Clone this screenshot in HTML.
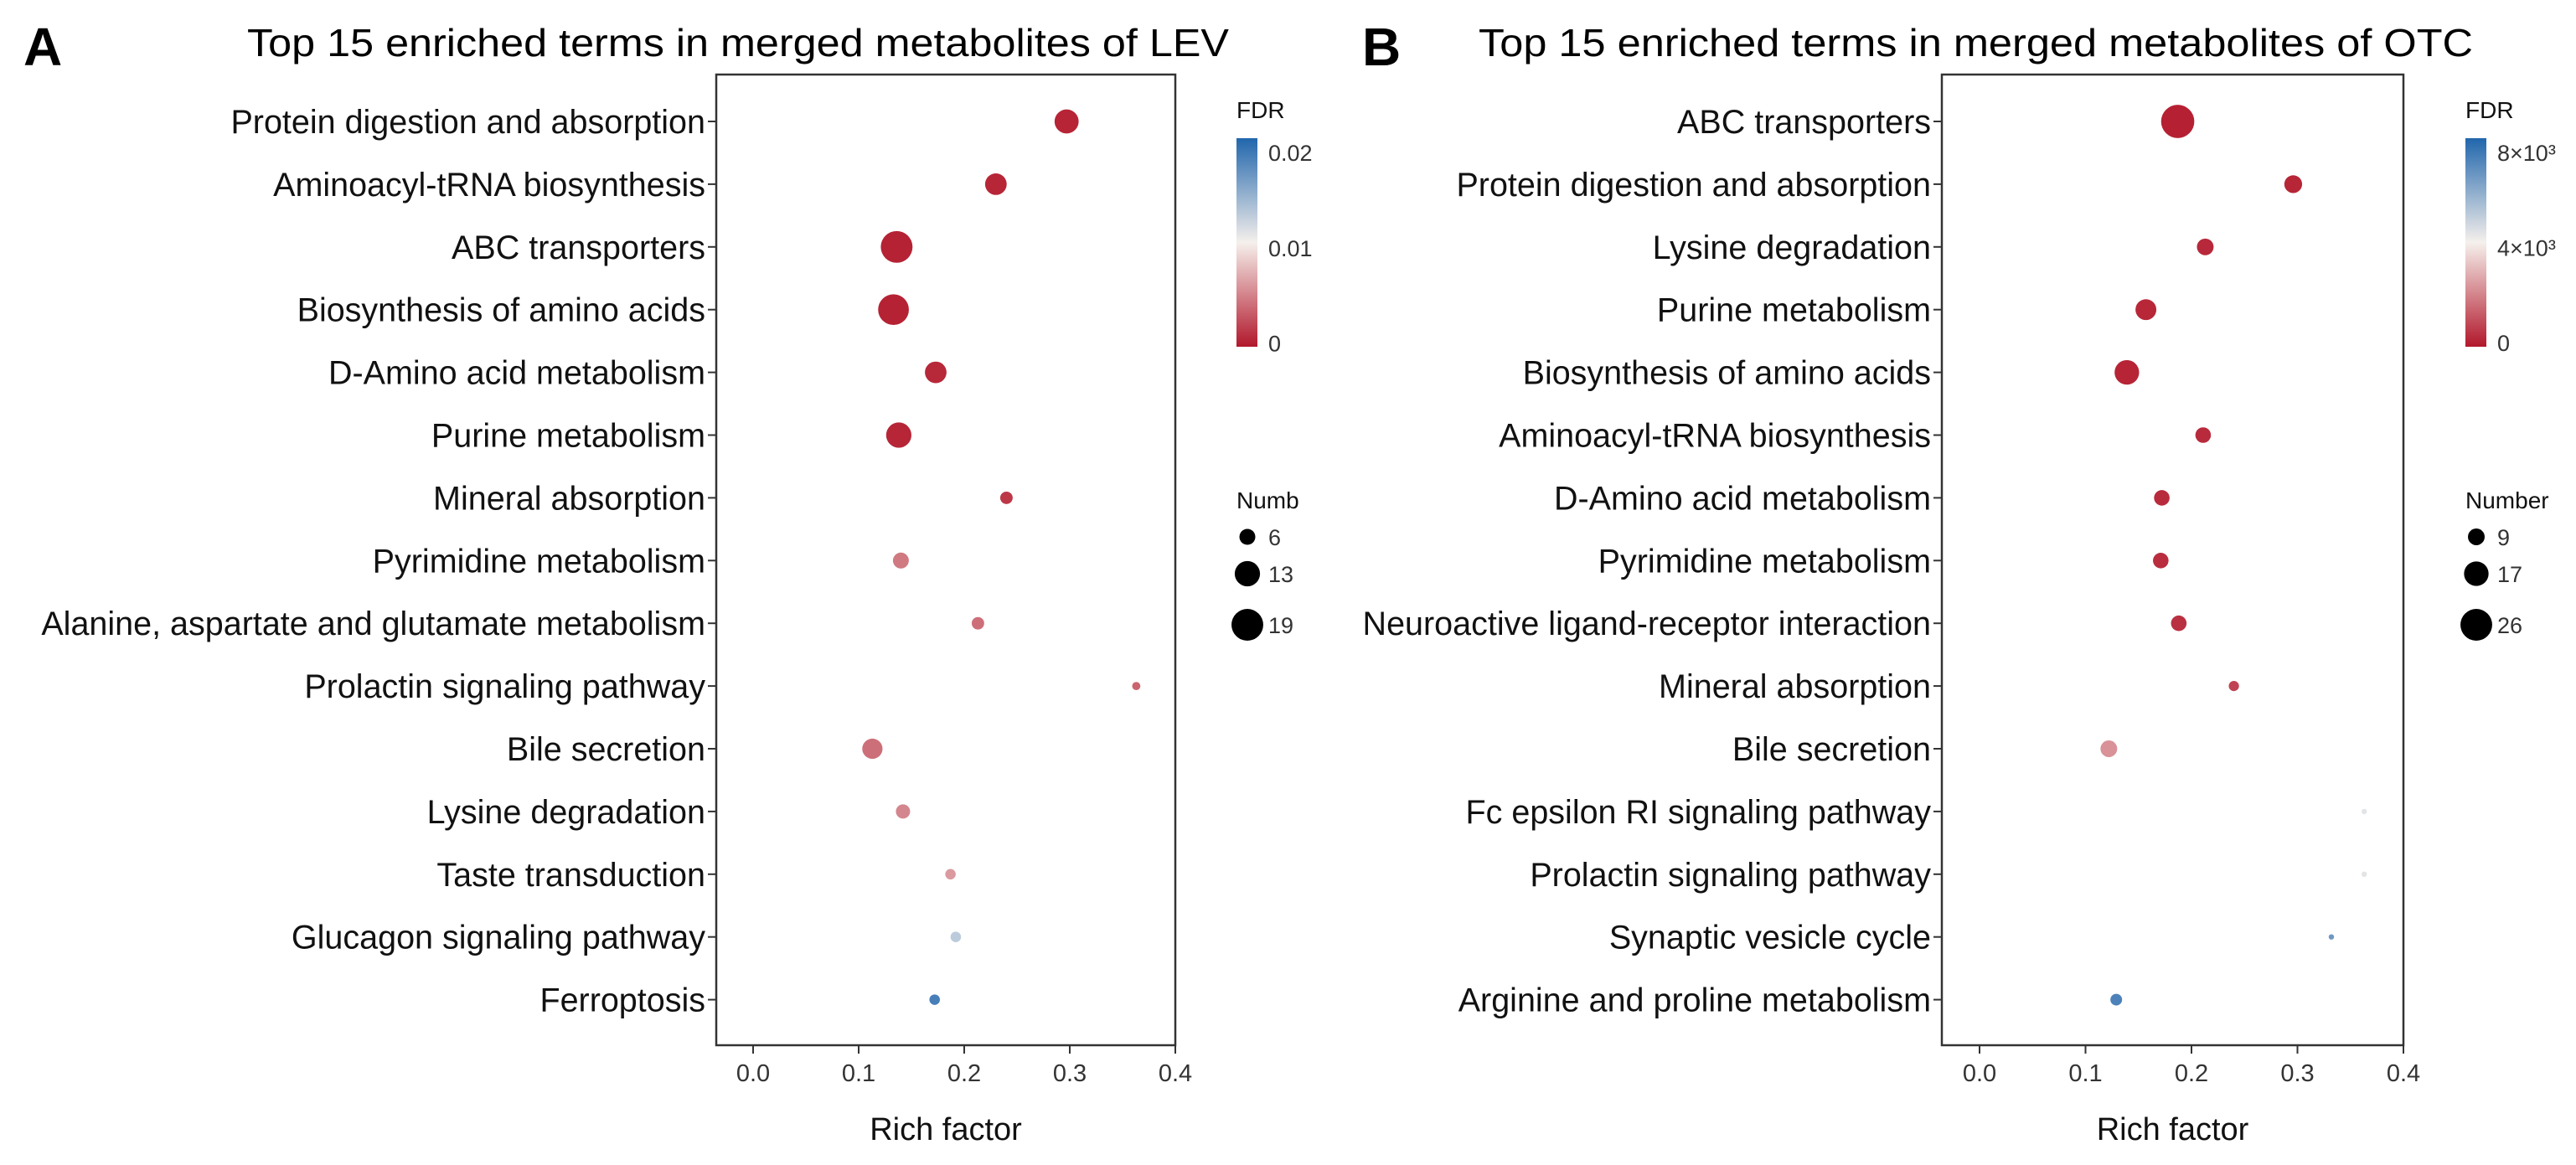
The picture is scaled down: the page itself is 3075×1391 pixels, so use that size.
<!DOCTYPE html>
<html><head><meta charset="utf-8">
<style>
html,body{margin:0;padding:0;background:#fff;}
svg{display:block;font-family:"Liberation Sans",Arial,sans-serif;}
</style></head>
<body>
<svg id="fig" width="3075" height="1391" viewBox="0 0 3075 1391" xmlns="http://www.w3.org/2000/svg"></svg>
<script>
// Panel A data (LEV)
const termsA = ["Protein digestion and absorption","Aminoacyl-tRNA biosynthesis","ABC transporters","Biosynthesis of amino acids","D-Amino acid metabolism","Purine metabolism","Mineral absorption","Pyrimidine metabolism","Alanine, aspartate and glutamate metabolism","Prolactin signaling pathway","Bile secretion","Lysine degradation","Taste transduction","Glucagon signaling pathway","Ferroptosis"];
const richA = [0.297,0.230,0.136,0.133,0.173,0.138,0.240,0.140,0.213,0.363,0.113,0.142,0.187,0.192,0.172];
const countA = [12,10,19,18,10,13,4,6,4,2,9,5,3,3,3];
const fdrA = [0.0002,0.0003,0.0001,0.0001,0.0004,0.0003,0.0012,0.0045,0.0040,0.0035,0.0040,0.0052,0.0062,0.0135,0.0195];
const sizeBreaksA = [6,13,19];
const fdrTicksA = ["0","0.01","0.02"];
const fdrTickValsA = [0,0.01,0.02];

// Panel B data (OTC)
const termsB = ["ABC transporters","Protein digestion and absorption","Lysine degradation","Purine metabolism","Biosynthesis of amino acids","Aminoacyl-tRNA biosynthesis","D-Amino acid metabolism","Pyrimidine metabolism","Neuroactive ligand-receptor interaction","Mineral absorption","Bile secretion","Fc epsilon RI signaling pathway","Prolactin signaling pathway","Synaptic vesicle cycle","Arginine and proline metabolism"];
const richB = [0.187,0.296,0.213,0.157,0.139,0.211,0.172,0.171,0.188,0.240,0.122,0.363,0.363,0.332,0.129];
const countB = [28,10,9,13,17,8,8,8,8,4,9,1,1,1,5];
const fdrB = [10,100,150,120,60,200,200,250,300,700,2300,4600,4600,7000,7700];
const sizeBreaksB = [9,17,26];
const fdrTicksB = ["0","4×10³","8×10³"];
const fdrTickValsB = [0,4000,8000];

const xTicks = [0,0.1,0.2,0.3,0.4];
const xTickLabels = ["0.0","0.1","0.2","0.3","0.4"];

const NS="http://www.w3.org/2000/svg";
const svg=document.getElementById('fig');
function mk(tag,attrs,parent){const e=document.createElementNS(NS,tag);for(const k in attrs)e.setAttribute(k,attrs[k]);(parent||svg).appendChild(e);return e;}

function lerp(a,b,t){return a+(b-a)*t;}
function colorFor(t){
  const r=[178,24,43], w=[245,240,236], b=[33,102,172];
  let c; if(t<0.5){const u=t/0.5;c=[0,1,2].map(i=>lerp(r[i],w[i],u));}else{const u=(t-0.5)/0.5;c=[0,1,2].map(i=>lerp(w[i],b[i],u));}
  return 'rgb('+c.map(v=>Math.round(v)).join(',')+')';
}

function panel(cfg){
  const g=mk('g',{});
  
  
  const L=cfg.left,R=cfg.right,T=89,B=1248;
  const x0=cfg.x0; const unit=(R-x0)/0.4;
  const xs=v=>x0+v*unit;
  const rowY=i=>145+i*74.9;
  const rad=n=>Math.max(3.2,cfg.k*Math.pow(n,cfg.p));
  const fmax=cfg.fmax, fmin=cfg.fmin;
  const ft=f=>Math.max(0,Math.min(1,(f-fmin)/(fmax-fmin)));
  const lt=mk('text',{x:cfg.letterX,y:78,'font-size':64,'font-weight':'bold',fill:'#000'},g);lt.textContent=cfg.letter;
  
  
  const tt=mk('text',{x:cfg.titleX,y:67,'font-size':46,fill:'#000',textLength:cfg.titleW,lengthAdjust:'spacingAndGlyphs'},g);tt.textContent=cfg.title;
  
  
  const box=mk('rect',{x:L,y:T,width:R-L,height:B-T,fill:'none',stroke:'#333','stroke-width':2.5},g);
  
  
  cfg.terms.forEach((t,i)=>{
    const y=rowY(i);
    const tk=mk('line',{x1:L-10,x2:L,y1:y,y2:y,stroke:'#333','stroke-width':2},g);
    
    
    const tx=mk('text',{x:L-13,y:y+14,'font-size':39.5,'text-anchor':'end',fill:'#111'},g);tx.textContent=t;
    
    
  });
  xTicks.forEach((v,i)=>{
    const x=xs(v);
    const tk=mk('line',{x1:x,x2:x,y1:B,y2:B+10,stroke:'#333','stroke-width':2},g);
    
    
    const tx=mk('text',{x:x,y:1291,'font-size':29,'text-anchor':'middle',fill:'#333'},g);tx.textContent=xTickLabels[i];
    
    
  });
  const xt=mk('text',{x:(L+R)/2,y:1361,'font-size':38,'text-anchor':'middle',fill:'#111'},g);xt.textContent='Rich factor';
  
  
  cfg.terms.forEach((t,i)=>{
    const c=mk('circle',{cx:xs(cfg.rich[i]),cy:rowY(i),r:rad(cfg.count[i]),fill:colorFor(ft(cfg.fdr[i]))},g);
    
    
  });
  const lx=cfg.legX;
  const ftl=mk('text',{x:lx,y:141,'font-size':28,fill:'#111'},g);ftl.textContent='FDR';
  
  
  const gid='grad'+cfg.letter;
  const defs=mk('defs',{},g);
  const lg=mk('linearGradient',{id:gid,x1:0,y1:1,x2:0,y2:0},defs);
  for(let s=0;s<=10;s++){mk('stop',{offset:(s*10)+'%','stop-color':colorFor(s/10)},lg);}
  const bar=mk('rect',{x:lx,y:165,width:25,height:249,fill:'url(#'+gid+')'},g);
  
  
  const barY=f=>414-(f-fmin)/(fmax-fmin)*249;
  cfg.fdrTicks.forEach((lab,i)=>{
    const tx=mk('text',{x:lx+38,y:barY(cfg.fdrTickVals[i])+10,'font-size':27,fill:'#333'},g);tx.textContent=lab;
    
    
  });
  const nt=mk('text',{x:lx,y:607,'font-size':28,fill:'#111'},g);nt.textContent=cfg.sizeTitle;
  
  
  const sy=[641,685,746];
  cfg.sizeBreaks.forEach((n,i)=>{
    const c=mk('circle',{cx:lx+13,cy:sy[i],r:rad(n),fill:'#000'},g);
    
    
    const tx=mk('text',{x:lx+38,y:sy[i]+10,'font-size':27,fill:'#333'},g);tx.textContent=n;
    
    
  });
}

panel({name:'panel-a-lev',letter:'A',letterX:28,title:'Top 15 enriched terms in merged metabolites of LEV',titleX:295,titleW:1172,
  left:855,right:1403,x0:899,terms:termsA,rich:richA,count:countA,fdr:fdrA,k:3.24,p:0.6,fmin:-0.0004,fmax:0.0215,
  legX:1476,fdrTicks:fdrTicksA,fdrTickVals:fdrTickValsA,sizeTitle:'Numb',sizeBreaks:sizeBreaksA});
panel({name:'panel-b-otc',letter:'B',letterX:1626,title:'Top 15 enriched terms in merged metabolites of OTC',titleX:1765,titleW:1187,
  left:2318,right:2869,x0:2363,terms:termsB,rich:richB,count:countB,fdr:fdrB,k:2.64,p:0.605,fmin:-180,fmax:8600,
  legX:2943,fdrTicks:fdrTicksB,fdrTickVals:fdrTickValsB,sizeTitle:'Number',sizeBreaks:sizeBreaksB});
</script>
</body></html>
